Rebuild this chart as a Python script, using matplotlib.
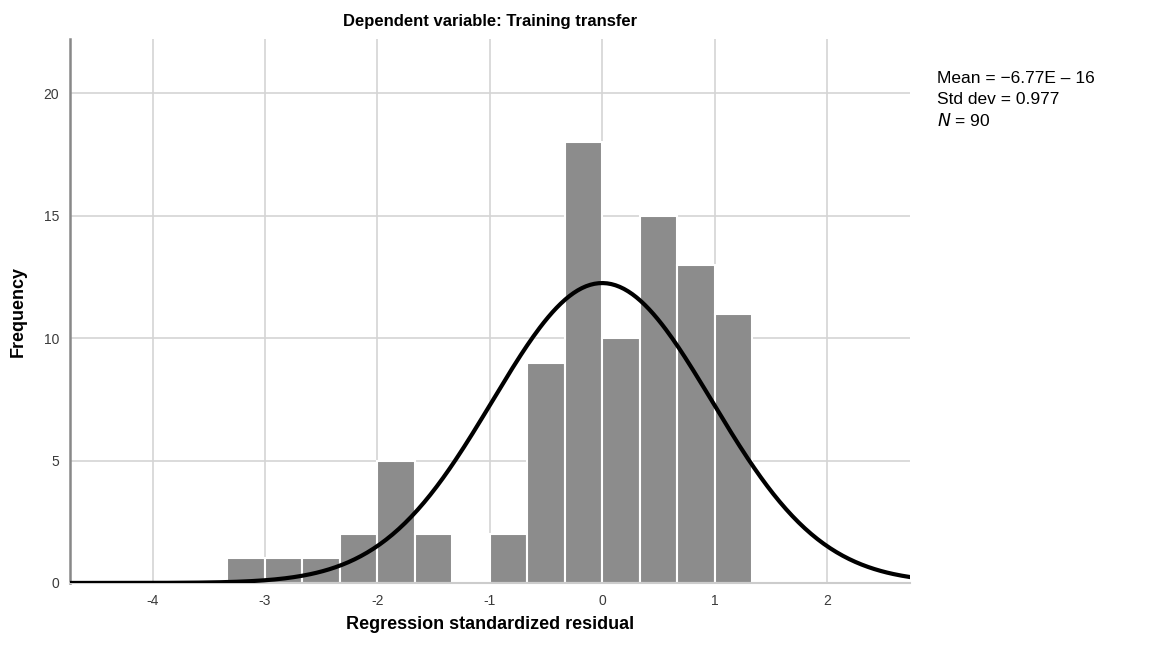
import numpy as np
import matplotlib.pyplot as plt

plt.rcParams["axes.unicode_minus"] = False
plt.rcParams["font.family"] = ["Liberation Sans", "DejaVu Sans"]

# histogram of residuals (bin edges in standardized units, counts per bin)
bin_edges = [-3.333, -3.0, -2.667, -2.333, -2.0, -1.667, -1.333, -1.0,
             -0.667, -0.333, 0.0, 0.333, 0.667, 1.0, 1.333]
counts = [1, 1, 1, 2, 5, 2, 0, 2, 9, 18, 10, 15, 13, 11]

mean = -6.77e-16
std = 0.977
n = 90

fig = plt.figure(figsize=(11.55, 6.47), dpi=100)
ax = fig.add_axes([0.061, 0.099, 0.727, 0.84])

ax.grid(True, color="#d4d4d4", linewidth=1.2)
ax.set_axisbelow(True)

left = np.array(bin_edges[:-1])
widths = np.diff(bin_edges)
ax.bar(left, counts, width=widths, align="edge", color="#8c8c8c",
       edgecolor="white", linewidth=1.5, zorder=2)

# fitted normal curve
xs = np.linspace(-4.73, 2.74, 400)
bw = 1 / 3
ys = n * bw * np.exp(-0.5 * ((xs - mean) / std) ** 2) / (std * np.sqrt(2 * np.pi))
ax.plot(xs, ys, color="black", linewidth=3, zorder=3)

ax.set_xlim(-4.73, 2.74)
ax.set_ylim(0, 22.2)
ax.set_xticks([-4, -3, -2, -1, 0, 1, 2])
ax.set_yticks([0, 5, 10, 15, 20])
ax.tick_params(length=0, labelsize=10, colors="#3a3a3a", pad=8)

for s in ["top", "right"]:
    ax.spines[s].set_visible(False)
ax.spines["left"].set_color("#888888")
ax.spines["left"].set_linewidth(1.8)
ax.spines["bottom"].set_color("#cccccc")
ax.spines["bottom"].set_linewidth(1.5)

ax.set_title("Dependent variable: Training transfer", fontsize=12,
             fontweight="bold", pad=10)
ax.set_xlabel("Regression standardized residual", fontsize=13,
              fontweight="bold", labelpad=6)
ax.set_ylabel("Frequency", fontsize=13, fontweight="bold", labelpad=12)

fig.text(0.811, 0.872, "Mean = \u22126.77E \u2013 16", fontsize=12.5)
fig.text(0.811, 0.839, "Std dev = 0.977", fontsize=12.5)
fig.text(0.811, 0.806, "$\\it{N}$ = 90", fontsize=12.5)

fig.savefig("out.png", dpi=100)
